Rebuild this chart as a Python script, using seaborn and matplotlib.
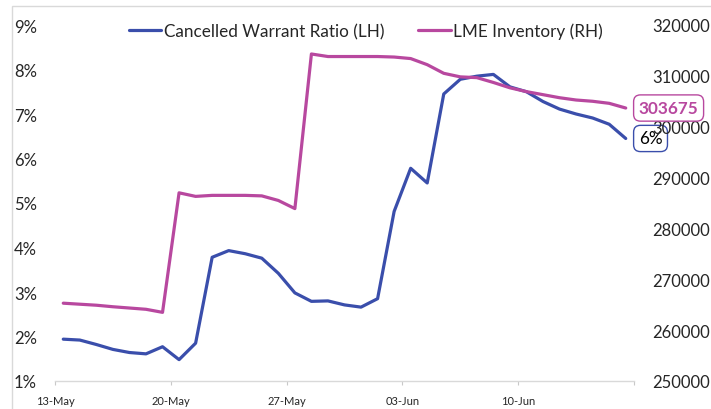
import pandas as pd
import seaborn as sns
import matplotlib.pyplot as plt
import matplotlib.dates as mdates
from matplotlib.ticker import PercentFormatter, FixedLocator
from matplotlib.patches import Rectangle

# Daily readings, 13-May to 16-Jun (points sit mid-day on the date axis)
dates = pd.date_range("2019-05-13", "2019-06-16", freq="D") + pd.Timedelta(hours=12)

# Cancelled warrant ratio, % (left axis)
warrant_ratio = [1.94, 1.92, 1.82, 1.71, 1.64, 1.61, 1.77, 1.48, 1.85, 3.78,
                 3.93, 3.86, 3.76, 3.42, 2.98, 2.79, 2.80, 2.71, 2.66, 2.85,
                 4.81, 5.78, 5.45, 7.45, 7.78, 7.85, 7.89, 7.61, 7.50, 7.28,
                 7.11, 7.00, 6.91, 6.77, 6.45]

# LME inventory, tonnes (right axis)
lme_inventory = [265300, 265100, 264900, 264600, 264350, 264100, 263500, 287000,
                 286300, 286500, 286500, 286500, 286400, 285500, 283900, 314300,
                 313800, 313800, 313800, 313800, 313700, 313400, 312200, 310500,
                 309800, 309650, 308700, 307650, 306900, 306300, 305700, 305250,
                 305000, 304600, 303675]

tick_dates = ["2019-05-13", "2019-05-20", "2019-05-27", "2019-06-03", "2019-06-10"]
left_ticks = [0.01, 0.02, 0.03, 0.04, 0.05, 0.06, 0.07, 0.08, 0.09]
right_ticks = [250000, 260000, 270000, 280000, 290000, 300000, 310000, 320000]

blue = "#3a4eab"
pink = "#b8489f"

sns.set_style("white")
plt.rcParams['font.family'] = ['Lato', 'DejaVu Sans']

df = pd.DataFrame({"date": dates,
                   "ratio": [v / 100 for v in warrant_ratio],
                   "inventory": lme_inventory})

fig = plt.figure(figsize=(7.11, 4.10), dpi=100)
ax = fig.add_axes([55 / 711, 1 - 382 / 410, (634 - 55) / 711, (382 - 26) / 410])
ax2 = ax.twinx()

sns.lineplot(data=df, x="date", y="ratio", ax=ax, color=blue, linewidth=2.3,
             label="Cancelled Warrant Ratio (LH)", legend=False)
sns.lineplot(data=df, x="date", y="inventory", ax=ax2, color=pink, linewidth=2.3,
             label="LME Inventory (RH)", legend=False)
for ln in ax.lines + ax2.lines:
    ln.set_solid_joinstyle("round")
    ln.set_solid_capstyle("round")

# x axis
ax.set_xlim(pd.Timestamp("2019-05-13"), pd.Timestamp("2019-06-17"))
ax.xaxis.set_major_locator(FixedLocator(mdates.date2num(pd.to_datetime(tick_dates))))
ax.xaxis.set_major_formatter(mdates.DateFormatter("%d-%b"))
ax.xaxis.set_minor_locator(FixedLocator([mdates.date2num(pd.Timestamp("2019-06-17"))]))
ax.tick_params(axis="x", which="both", length=3, color="#c8c8c8", width=0.8,
               labelsize=8, pad=7, direction="out", bottom=True)
ax.set_xlabel("")

# y axes
ax.set_ylim(0.01, 0.09)
ax.set_yticks(left_ticks)
ax.yaxis.set_major_formatter(PercentFormatter(1, decimals=0))
ax.tick_params(axis="y", length=0, labelsize=12, pad=13)
ax.set_ylabel("")

ax2.set_ylim(250000, 320000)
ax2.set_yticks(right_ticks)
ax2.set_yticklabels([str(v) for v in right_ticks])
ax2.tick_params(axis="y", length=0, labelsize=12, pad=13)
ax2.set_ylabel("")

for a in (ax, ax2):
    for side in ("top", "left", "right"):
        a.spines[side].set_visible(False)
    a.spines["bottom"].set_color("#d9d9d9")
    a.spines["bottom"].set_linewidth(1)
ax2.spines["bottom"].set_visible(False)

# end labels
ax2.annotate("303675", xy=(dates[-1], lme_inventory[-1]), xytext=(13, 0),
             textcoords="offset pixels", ha="left", va="center", color=pink,
             fontsize=12.3, fontweight="bold", annotation_clip=False,
             bbox=dict(boxstyle="round,pad=0.3,rounding_size=0.4", fc="none",
                       ec=pink, lw=1))
ax.annotate("%d%%" % round(warrant_ratio[-1]), xy=(dates[-1], warrant_ratio[-1] / 100),
            xytext=(13, 0), textcoords="offset pixels", ha="left", va="center",
            color="black", fontsize=12.3, annotation_clip=False,
            bbox=dict(boxstyle="round,pad=0.3,rounding_size=0.4", fc="none",
                      ec=blue, lw=1))

# legend
handles = ax.get_lines()[:1] + ax2.get_lines()[:1]
fig.legend(handles, [h.get_label() for h in handles], loc="center",
           bbox_to_anchor=(366 / 711, 1 - 32 / 410), ncol=2, frameon=False,
           fontsize=12.3, handlelength=1.9, handletextpad=0.15, columnspacing=2.0)

# chart area border
fig.patches.append(Rectangle((12 / 711, -0.1), 1.2, 1.1 - 7 / 410,
                             transform=fig.transFigure, fill=False,
                             ec="#d9d9d9", lw=1))

fig.savefig("out.png", dpi=100)
